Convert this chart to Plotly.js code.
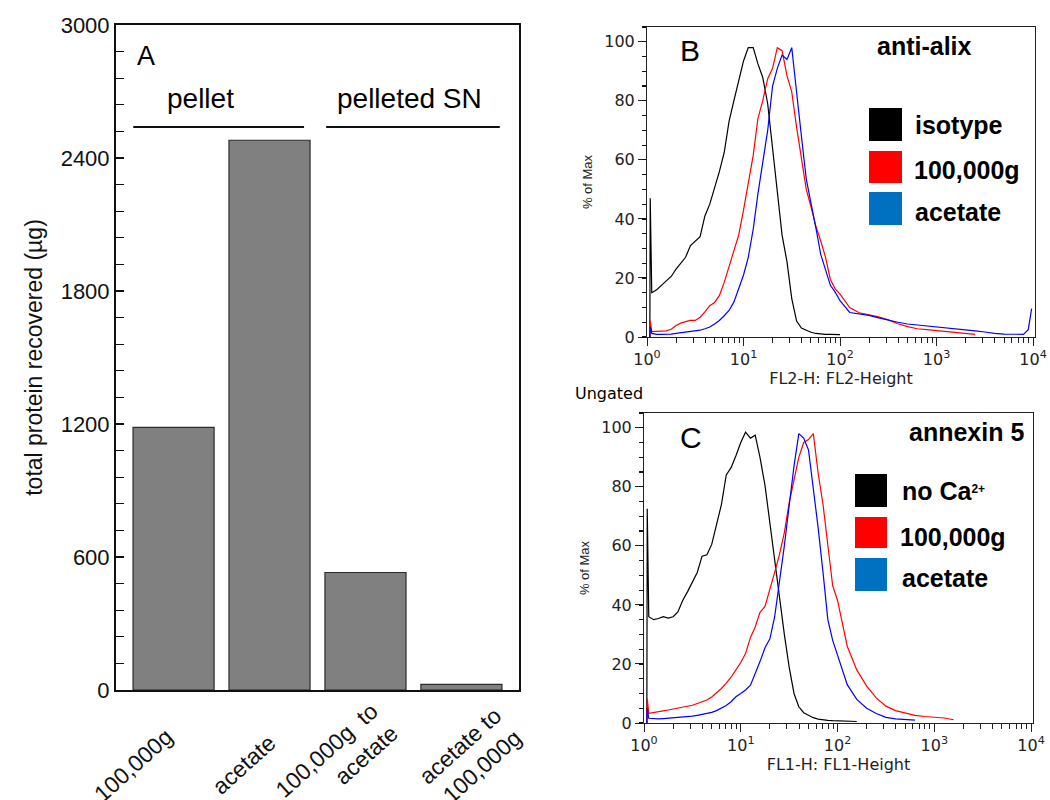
<!DOCTYPE html>
<html>
<head>
<meta charset="utf-8">
<script src="https://cdn.plot.ly/plotly-3.0.1.min.js"></script>
<style>
  body { margin: 0; background: #fff; }
  #fig { width: 1050px; height: 800px; }
</style>
</head>
<body>
<div id="fig"></div>
<script>
// Panel A: total protein recovered (bar chart)
var groups = ['100,000g', 'acetate', '100,000g  to<br>acetate', 'acetate to<br>100,000g'];
var protein = [1185, 2480, 530, 25];

// Panels B and C: flow cytometry histograms (% of max vs fluorescence channel)
var channels = [1.07, 1.08, 1.12, 1.26, 1.41, 1.58, 1.78, 2.0, 2.24, 2.51, 2.82, 3.16, 3.55, 3.98, 4.47,
    5.01, 5.62, 6.31, 7.08, 7.94, 8.91, 10, 11.2, 12.6, 14.1, 15.8, 17.8, 20, 22.4, 25.1, 28.2, 31.6,
    35.5, 39.8, 44.7, 50.1, 56.2, 63.1, 70.8, 79.4, 89.1, 100, 126, 158, 200, 251, 316, 398, 501, 631,
    794, 1000, 1259, 1585, 1995, 2512, 3162, 3981, 5012, 6310, 7943, 8913, 9661];

// B: anti-alix
var isotypeB = [0, 47, 15, 16, 17.5, 19, 20.5, 23, 25, 27, 31, 32.5, 34, 41, 45,
    50.5, 56, 62.5, 73, 80, 87, 93.5, 98, 98, 92.5, 88, 79, 64.5, 50, 34.5, 25.5, 13,
    5.4, 3.0, 2.3, 1.6, 1.2, 1.0, 0.9, 0.9, 0.8, 0.8, null, null, null, null, null, null, null, null,
    null, null, null, null, null, null, null, null, null, null, null, null, null];
var pelletB = [0, 5.6, 1.8, 1.8, 2.0, 2.1, 2.6, 3.9, 4.7, 5.2, 5.6, 5.6, 6.7, 8.5, 10.6,
    11.7, 14, 18.5, 23.8, 28.5, 34.5, 43, 51.5, 61.5, 74, 80, 87.5, 91, 98, 97, 88.5, 83,
    71, 60, 50, 44, 37.5, 32.5, 27, 19.5, 16.3, 14.5, 10, 8.2, 7.6, 6.8, 5.8, 4.5, 3.5, 2.8,
    2.5, 2.2, 2.0, 1.6, 1.2, 0.9, null, null, null, null, null, null, null];
var acetateB = [0, 3.4, 1.2, 0.9, 0.9, 0.9, 1.0, 1.2, 1.4, 1.6, 1.8, 2.0, 2.3, 2.8, 3.4,
    4.4, 5.6, 7.2, 9, 11.8, 16.5, 21, 27, 36.5, 48.5, 59.5, 70, 85, 91, 95.5, 94, 98,
    82, 68, 53.5, 45.5, 37, 28, 22.5, 17.5, 15.2, 12.3, 8.3, 7.9, 7.3, 6.5, 5.7, 5.0, 4.4, 4.1,
    3.7, 3.5, 3.2, 2.8, 2.5, 2.1, 1.7, 1.2, 1.0, 0.9, 0.9, 2.5, 9.6];

// C: annexin 5
var noCaC = [0, 72.6, 36, 35, 35.4, 36, 35.5, 36, 37.6, 41.5, 44.5, 47.5, 51, 56.5, 57,
    60.5, 67.5, 74, 84, 86.5, 90.5, 95, 98.5, 96.5, 97.5, 90, 80.5, 67.5, 56, 43, 30, 19,
    10, 5.5, 3.5, 2.6, 1.8, 1.3, 1.0, 0.9, 0.8, 0.7, 0.6, 0.5, null, null, null, null, null, null,
    null, null, null, null, null, null, null, null, null, null, null, null, null];
var pelletC = [0, 8.3, 3.3, 3.5, 3.8, 4.1, 4.4, 4.7, 5.0, 5.2, 5.5, 6.0, 6.6, 7.2, 7.8,
    8.8, 10.2, 11.7, 13.5, 15.5, 18, 20.5, 23.5, 29, 32.5, 37.5, 39.5, 45, 51, 57, 64.5, 74.5,
    82, 90, 95, 96, 98, 84.5, 74, 60, 46.5, 41.5, 26, 18, 12.5, 8.5, 5.7, 4.2, 3.3, 2.6,
    2.2, 2.0, 1.7, 1.1, null, null, null, null, null, null, null, null, null];
var acetateC = [0, 5, 1.6, 1.4, 1.4, 1.5, 1.6, 1.7, 1.8, 2.0, 2.1, 2.3, 2.6, 2.9, 3.2,
    3.6, 4.2, 5.0, 5.9, 7.2, 8.9, 10, 11.2, 12.8, 16.5, 20.8, 25.5, 28.5, 36, 47, 60, 73.5,
    87, 98, 96.5, 92.5, 79.5, 66, 51, 35, 28, 23, 13, 8, 5, 3.2, 1.9, 1.4, 1.2, 1.0,
    null, null, null, null, null, null, null, null, null, null, null, null, null];

var decades = [1, 10, 100, 1000, 10000];
var decadeLabels = ['10<sup>0</sup>', '10<sup>1</sup>', '10<sup>2</sup>', '10<sup>3</sup>', '10<sup>4</sup>'];

// pixel helpers (figure is 1050 x 800, no margins)
var W = 1050, H = 800;
function fx(p) { return p / W; }
function fy(p) { return 1 - p / H; }

var flowFont = {family: 'DejaVu Sans', size: 16, color: '#222'};
var curveColors = {black: '#000000', red: '#ff0000', blue: '#0000ff'};
var swatchColors = {black: '#000000', red: '#ff0000', blue: '#0070c0'};

function histTrace(y, color, ax) {
    // one histogram outline
    return {
        type: 'scatter', mode: 'lines', x: channels, y: y,
        xaxis: 'x' + ax, yaxis: 'y' + ax,
        line: {color: color, width: 1.2},
        connectgaps: false, hoverinfo: 'skip'
    };
}

function emptyTrace(xa, ya) {
    // keeps an overlay axis (minor ticks only) alive
    return {type: 'scatter', mode: 'lines', x: [], y: [], xaxis: xa, yaxis: ya, hoverinfo: 'skip'};
}

function flowXaxis(left, right, anchor, title) {
    return {
        domain: [fx(left), fx(right)], anchor: anchor,
        type: 'log', range: [0, 4.02],
        tickmode: 'array', tickvals: decades, ticktext: decadeLabels,
        ticks: 'outside', ticklen: 8, tickcolor: '#222',
        showline: true, linecolor: '#222', linewidth: 1, mirror: true,
        showgrid: false, zeroline: false,
        tickfont: flowFont,
        title: {text: title, font: {family: 'DejaVu Sans', size: 16, color: '#222'}, standoff: 2}
    };
}

function flowYaxis(top, bottom, anchor) {
    return {
        domain: [fy(bottom), fy(top)], anchor: anchor,
        range: [0, 105], tickmode: 'linear', tick0: 0, dtick: 20,
        ticks: 'outside', ticklen: 8, tickcolor: '#222',
        showline: true, linecolor: '#222', linewidth: 1, mirror: true,
        showgrid: false, zeroline: false,
        tickfont: flowFont,
        title: {text: '% of Max', font: {family: 'Liberation Sans', size: 13, color: '#222'}, standoff: 8}
    };
}

// overlay axes that only carry the small in-between ticks
function minorX(over, anchor) {
    return {
        overlaying: over, anchor: anchor, type: 'log', range: [0, 4.02],
        tickmode: 'linear', tick0: 0, dtick: 'D1', ticks: 'outside', ticklen: 5, tickcolor: '#222',
        showticklabels: false, showline: false, showgrid: false, zeroline: false
    };
}
function minorY(over, anchor, range, step, len, side) {
    return {
        overlaying: over, anchor: anchor, range: range,
        tickmode: 'linear', tick0: 0, dtick: step, ticks: side, ticklen: len, tickcolor: '#111', tickwidth: 1.2,
        showticklabels: false, showline: false, showgrid: false, zeroline: false
    };
}

var data = [
    {
        type: 'bar', x: groups, y: protein, xaxis: 'x', yaxis: 'y',
        width: 0.845,
        marker: {color: '#808080', line: {color: '#2b2b2b', width: 1.2}},
        hoverinfo: 'skip'
    },
    histTrace(isotypeB, curveColors.black, 2),
    histTrace(pelletB, curveColors.red, 2),
    histTrace(acetateB, curveColors.blue, 2),
    histTrace(noCaC, curveColors.black, 3),
    histTrace(pelletC, curveColors.red, 3),
    histTrace(acetateC, curveColors.blue, 3),
    emptyTrace('x', 'y4'),
    emptyTrace('x4', 'y2'),
    emptyTrace('x2', 'y5'),
    emptyTrace('x5', 'y3'),
    emptyTrace('x3', 'y6')
];

function label(text, x, y, size, anchor, bold, family) {
    return {
        text: bold ? '<b>' + text + '</b>' : text,
        xref: 'paper', yref: 'paper', x: fx(x), y: fy(y),
        xanchor: anchor, yanchor: 'middle', showarrow: false,
        font: {family: family || 'Liberation Sans', size: size, color: '#000'}
    };
}

// slanted category labels under the bars (right end pushed off the bar centre)
var labelShift = [7, 13, 41, 68];
var labelTop = [720, 727, 695, 700];
function groupLabel(i) {
    return {
        text: groups[i], xref: 'x', yref: 'paper', x: groups[i], y: fy(labelTop[i]),
        xshift: labelShift[i], xanchor: 'right', yanchor: 'top', align: 'right',
        textangle: -42, showarrow: false,
        font: {family: 'Liberation Sans', size: 23, color: '#111'}
    };
}

function swatch(x0, x1, y0, y1, color) {
    return {
        type: 'rect', xref: 'paper', yref: 'paper',
        x0: fx(x0), x1: fx(x1), y0: fy(y1), y1: fy(y0),
        fillcolor: color, line: {width: 0}
    };
}

var annotations = [
    label('A', 135, 56, 27, 'left'),
    label('pellet', 200, 98, 28, 'center'),
    label('pelleted SN', 409, 98, 28, 'center'),
    label('B', 678, 51, 30, 'left'),
    label('anti-alix', 924, 46, 25, 'center', true),
    label('isotype', 913, 125, 25, 'left', true),
    label('100,000g', 912, 170, 25, 'left', true),
    label('acetate', 913, 212, 25, 'left', true),
    label('Ungated', 573, 393, 16, 'left', false, 'DejaVu Sans'),
    label('C', 678, 437, 30, 'left'),
    label('annexin 5', 966, 432, 25, 'center', true),
    label('no Ca<span style="font-size:17px"><sup>2+</sup></span>', 900, 491, 25, 'left', true),
    label('100,000g', 898, 537, 25, 'left', true),
    label('acetate', 900, 578, 25, 'left', true)
];
for (var i = 0; i < groups.length; i++) {
    annotations.push(groupLabel(i));
}

var shapes = [
    // group brackets above the bars
    {type: 'line', xref: 'x', yref: 'y', x0: -0.42, x1: 1.36, y0: 2540, y1: 2540, line: {color: '#111', width: 2}},
    {type: 'line', xref: 'x', yref: 'y', x0: 1.59, x1: 3.40, y0: 2540, y1: 2540, line: {color: '#111', width: 2}},
    // legend swatches B
    swatch(869, 902, 108, 141, swatchColors.black),
    swatch(869, 902, 151, 183, swatchColors.red),
    swatch(869, 902, 192, 225, swatchColors.blue),
    // legend swatches C
    swatch(855, 887, 474, 507, swatchColors.black),
    swatch(855, 887, 517, 548, swatchColors.red),
    swatch(855, 887, 558, 591, swatchColors.blue)
];

var layout = {
    width: W, height: H,
    margin: {l: 0, r: 0, t: 0, b: 0},
    paper_bgcolor: '#fff', plot_bgcolor: '#fff',
    showlegend: false,
    font: {family: 'Liberation Sans', color: '#111'},
    xaxis: {
        domain: [fx(116), fx(519)], anchor: 'y',
        type: 'category', range: [-0.6, 3.6],
        ticks: '', showticklabels: false,
        showline: true, linecolor: '#111', linewidth: 2, mirror: true,
        showgrid: false, zeroline: false
    },
    yaxis: {
        domain: [fy(690), fy(25)], anchor: 'x',
        range: [0, 3000], tickmode: 'linear', tick0: 0, dtick: 600,
        ticks: 'inside', ticklen: 3, tickcolor: '#555',
        showline: true, linecolor: '#111', linewidth: 2, mirror: true,
        showgrid: false, zeroline: false,
        tickfont: {family: 'Liberation Sans', size: 22, color: '#111'},
        title: {text: 'total protein recovered (µg)', font: {family: 'Liberation Sans', size: 23, color: '#111'}, standoff: 12}
    },
    yaxis4: minorY('y', 'x', [0, 3000], 120, 8, 'inside'),
    xaxis2: flowXaxis(647, 1035, 'y2', 'FL2-H: FL2-Height'),
    yaxis2: flowYaxis(27, 337, 'x2'),
    xaxis4: minorX('x2', 'y2'),
    yaxis5: minorY('y2', 'x2', [0, 105], 5, 4, 'outside'),
    xaxis3: flowXaxis(644, 1033, 'y3', 'FL1-H: FL1-Height'),
    yaxis3: flowYaxis(413, 723, 'x3'),
    xaxis5: minorX('x3', 'y3'),
    yaxis6: minorY('y3', 'x3', [0, 105], 5, 4, 'outside'),
    annotations: annotations,
    shapes: shapes
};

Plotly.newPlot('fig', data, layout, {displayModeBar: false, staticPlot: true});
</script>
</body>
</html>
